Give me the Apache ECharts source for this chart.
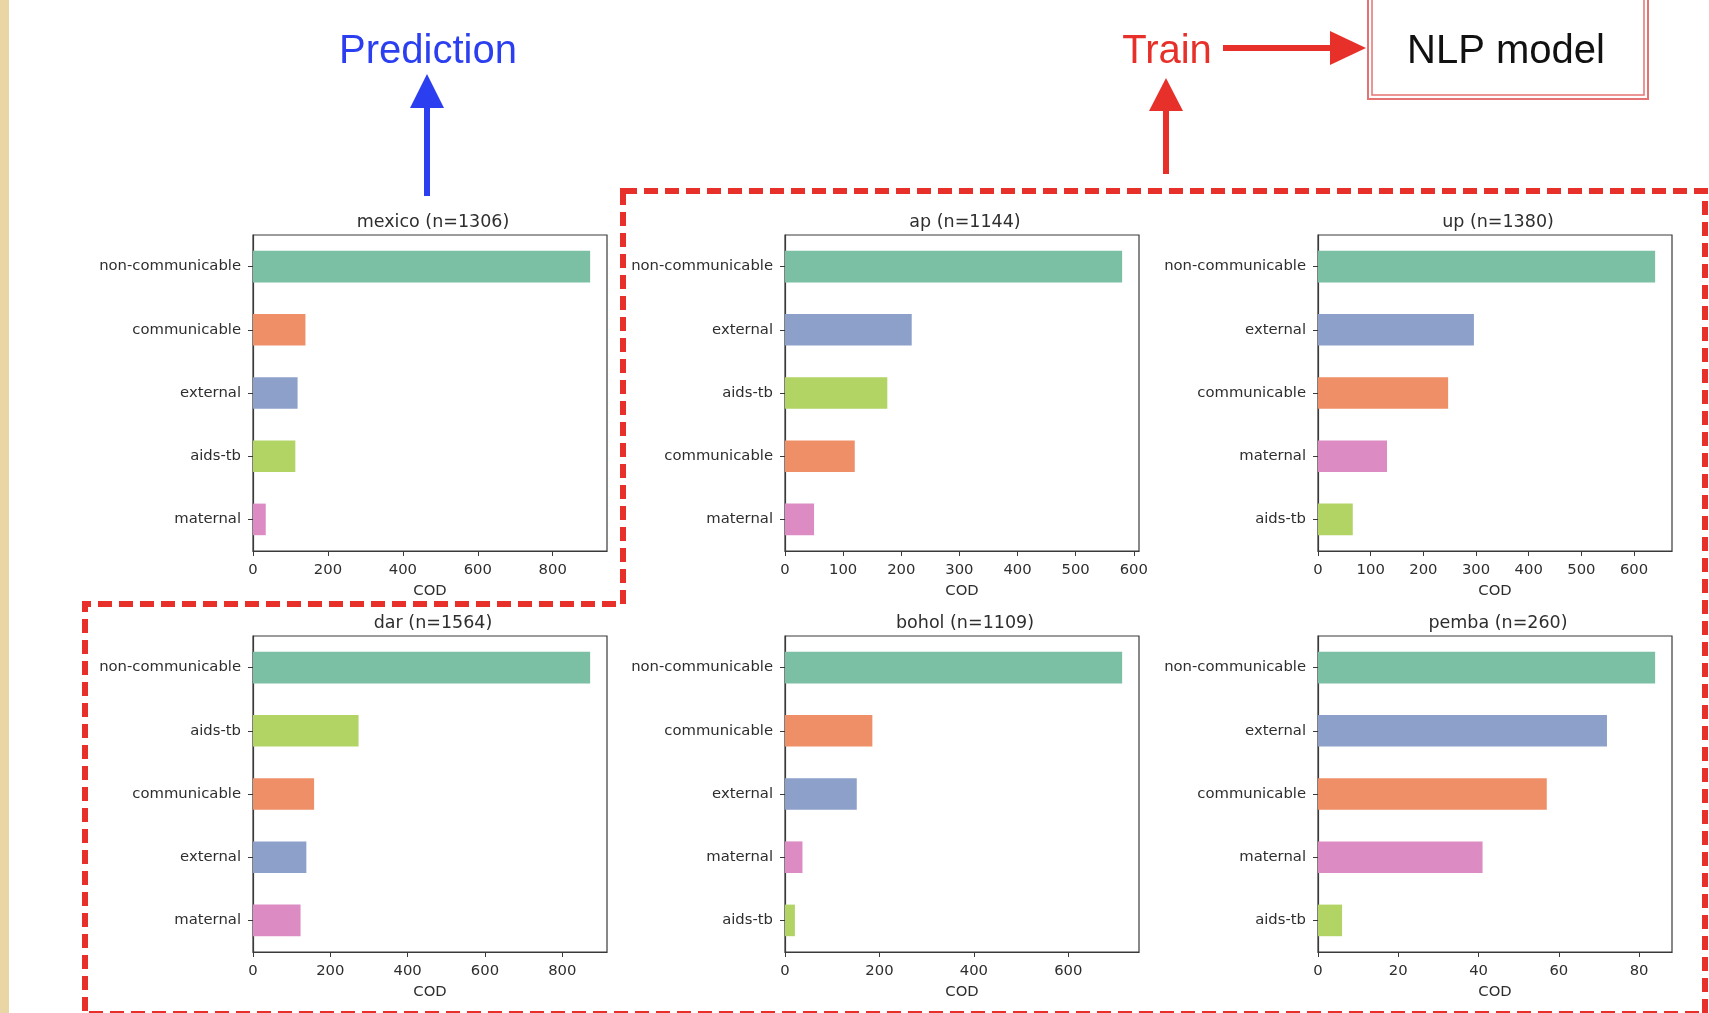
<!DOCTYPE html>
<html>
<head>
<meta charset="utf-8">
<script src="https://cdn.jsdelivr.net/npm/echarts@6/dist/echarts.min.js"></script>
<style>
  html, body { margin: 0; padding: 0; background: #ffffff; }
  #main { width: 1709px; height: 1013px; }
</style>
</head>
<body>
<div id="main"></div>
<script>
// Cause-of-death (COD) counts per site
const regionNames = ['mexico', 'ap', 'up', 'dar', 'bohol', 'pemba'];
const regionN = [1306, 1144, 1380, 1564, 1109, 260];

const mexicoCauses = ['non-communicable', 'communicable', 'external', 'aids-tb', 'maternal'];
const mexicoCounts = [900, 140, 119, 113, 34];
const mexicoTicks = [0, 200, 400, 600, 800];

const apCauses = ['non-communicable', 'external', 'aids-tb', 'communicable', 'maternal'];
const apCounts = [580, 218, 176, 120, 50];
const apTicks = [0, 100, 200, 300, 400, 500, 600];

const upCauses = ['non-communicable', 'external', 'communicable', 'maternal', 'aids-tb'];
const upCounts = [640, 296, 247, 131, 66];
const upTicks = [0, 100, 200, 300, 400, 500, 600];

const darCauses = ['non-communicable', 'aids-tb', 'communicable', 'external', 'maternal'];
const darCounts = [872, 273, 158, 138, 123];
const darTicks = [0, 200, 400, 600, 800];

const boholCauses = ['non-communicable', 'communicable', 'external', 'maternal', 'aids-tb'];
const boholCounts = [714, 185, 152, 37, 21];
const boholTicks = [0, 200, 400, 600];

const pembaCauses = ['non-communicable', 'external', 'communicable', 'maternal', 'aids-tb'];
const pembaCounts = [84, 72, 57, 41, 6];
const pembaTicks = [0, 20, 40, 60, 80];

const causeColors = {
  'non-communicable': '#7bbfa5',
  'communicable': '#ef8f67',
  'external': '#8da0c9',
  'maternal': '#dc8cc3',
  'aids-tb': '#b1d465'
};

const panels = [
  { causes: mexicoCauses, counts: mexicoCounts, ticks: mexicoTicks },
  { causes: apCauses, counts: apCounts, ticks: apTicks },
  { causes: upCauses, counts: upCounts, ticks: upTicks },
  { causes: darCauses, counts: darCounts, ticks: darTicks },
  { causes: boholCauses, counts: boholCounts, ticks: boholTicks },
  { causes: pembaCauses, counts: pembaCounts, ticks: pembaTicks }
];

// panel placement (3 columns x 2 rows)
const colLeft = [253, 785, 1318];
const rowTop = [235, 636];
const panelW = 354;
const panelH = 316;

const TXT = '#2e2e2e';
const FRAME = '#3a3a3a';
const FONT = 'DejaVu Sans';

const grids = [], xAxes = [], yAxes = [], series = [], titles = [];

panels.forEach((p, i) => {
  const left = colLeft[i % 3];
  const top = rowTop[Math.floor(i / 3)];
  grids.push({
    left: left, top: top, width: panelW, height: panelH,
    show: true, borderColor: FRAME, borderWidth: 1.2, backgroundColor: 'transparent',
    containLabel: false
  });
  const maxVal = Math.max.apply(null, p.counts) * 1.05;
  xAxes.push({
    type: 'value', gridIndex: i, min: 0, max: maxVal,
    name: 'COD', nameLocation: 'middle', nameGap: 33,
    nameTextStyle: { fontFamily: FONT, fontSize: 14.8, color: TXT },
    axisLine: { show: true, lineStyle: { color: FRAME, width: 1.2 } },
    axisTick: { show: true, inside: false, length: 5, customValues: p.ticks, lineStyle: { color: FRAME, width: 1 } },
    axisLabel: { show: true, margin: 12, customValues: p.ticks, fontFamily: FONT, fontSize: 14.8, color: TXT },
    splitLine: { show: false }
  });
  yAxes.push({
    type: 'category', gridIndex: i, data: p.causes, inverse: true,
    axisLine: { show: true, lineStyle: { color: FRAME, width: 1.2 } },
    axisTick: { show: true, alignWithLabel: true, inside: false, length: 5, lineStyle: { color: FRAME, width: 1 } },
    axisLabel: { margin: 12, fontFamily: FONT, fontSize: 14.8, color: TXT },
    splitLine: { show: false }
  });
  series.push({
    type: 'bar', xAxisIndex: i, yAxisIndex: i, barWidth: '50%',
    data: p.counts.map((v, k) => ({ value: v, itemStyle: { color: causeColors[p.causes[k]] } }))
  });
  titles.push({
    text: regionNames[i] + ' (n=' + regionN[i] + ')',
    left: left + panelW / 2 - 2, top: top - 27, textAlign: 'center',
    textStyle: { fontFamily: FONT, fontSize: 17.5, fontWeight: 'normal', color: TXT }
  });
});

const BLUE = '#2b3ff0';
const RED = '#e8302a';

const graphics = [
  // left margin strip
  { type: 'rect', shape: { x: 0, y: 0, width: 9, height: 1013 }, style: { fill: '#e9d6a4' }, z: 0 },
  // dashed outline around the training sites
  {
    type: 'polygon',
    shape: { points: [[623, 191], [1705, 191], [1705, 1014], [85, 1014], [85, 604], [623, 604]] },
    style: { fill: 'none', stroke: RED, lineWidth: 6, lineDash: [14, 7] }, z: 10
  },
  // Prediction arrow
  { type: 'line', shape: { x1: 427, y1: 196, x2: 427, y2: 100 }, style: { stroke: BLUE, lineWidth: 6 }, z: 10 },
  { type: 'polygon', shape: { points: [[427, 74], [410, 108], [444, 108]] }, style: { fill: BLUE }, z: 10 },
  { type: 'text', x: 428, y: 52, style: { text: 'Prediction', fill: BLUE, font: '40px "Liberation Sans", Arial, sans-serif', align: 'center', verticalAlign: 'middle' }, z: 10 },
  // Train arrow (up)
  { type: 'line', shape: { x1: 1166, y1: 174, x2: 1166, y2: 104 }, style: { stroke: RED, lineWidth: 6 }, z: 10 },
  { type: 'polygon', shape: { points: [[1166, 78], [1149, 111], [1183, 111]] }, style: { fill: RED }, z: 10 },
  { type: 'text', x: 1167, y: 52, style: { text: 'Train', fill: RED, font: '40px "Liberation Sans", Arial, sans-serif', align: 'center', verticalAlign: 'middle' }, z: 10 },
  // Train -> NLP model arrow
  { type: 'line', shape: { x1: 1223, y1: 48, x2: 1335, y2: 48 }, style: { stroke: RED, lineWidth: 6 }, z: 10 },
  { type: 'polygon', shape: { points: [[1366, 48], [1330, 31], [1330, 65]] }, style: { fill: RED }, z: 10 },
  // NLP model box (double border)
  { type: 'rect', shape: { x: 1368, y: -2, width: 280, height: 101 }, style: { fill: '#ffffff', stroke: '#e57373', lineWidth: 2 }, z: 10 },
  { type: 'rect', shape: { x: 1372, y: -2, width: 272, height: 97 }, style: { fill: 'none', stroke: '#e57373', lineWidth: 1.5 }, z: 10 },
  { type: 'text', x: 1506, y: 52, style: { text: 'NLP model', fill: '#111111', font: '40px "Liberation Sans", Arial, sans-serif', align: 'center', verticalAlign: 'middle' }, z: 11 }
];

const chart = echarts.init(document.getElementById('main'), null, { renderer: 'canvas' });
chart.setOption({
  backgroundColor: '#ffffff',
  animation: false,
  title: titles,
  grid: grids,
  xAxis: xAxes,
  yAxis: yAxes,
  series: series,
  graphic: graphics
});
</script>
</body>
</html>
